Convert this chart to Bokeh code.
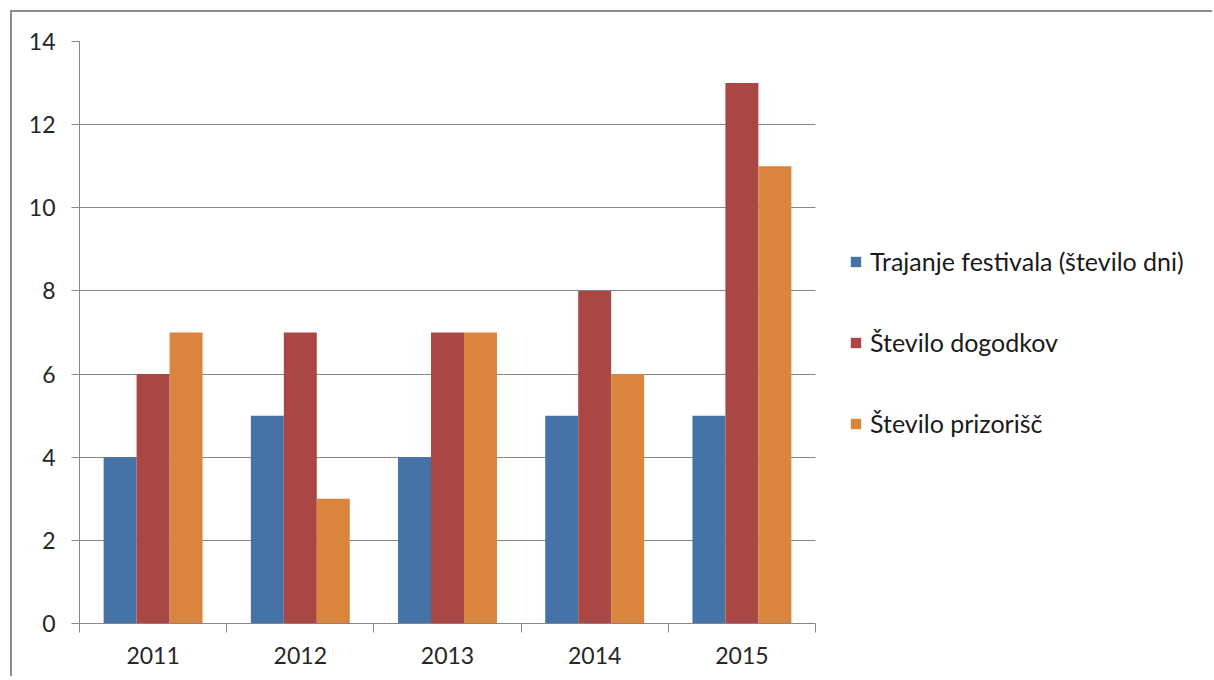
from bokeh.plotting import figure
from bokeh.models import FixedTicker, Legend, LegendItem, Range1d
from bokeh.embed import file_html
from bokeh.resources import INLINE
import numpy as np

years = ["2011", "2012", "2013", "2014", "2015"]
trajanje = [4, 5, 4, 5, 5]
dogodki = [6, 7, 7, 8, 13]
prizorisca = [7, 3, 7, 6, 11]
series_names = ["Trajanje festivala (število dni)", "Število dogodkov", "Število prizorišč"]
colors = ["#4572A7", "#AA4643", "#DB843D"]
y_ticks = [0, 2, 4, 6, 8, 10, 12, 14]

GRAY = "#868686"
TEXT = "#262626"
FONT = "Lato"

W, H = 1202, 666
ML, MT, MB, MR = 67, 29, 55, 20
PLOT_PX = 736  # pixel width of the bar area
n = len(years)
x_end = n * (W - ML - MR) / PLOT_PX

p = figure(width=W, height=H, x_range=Range1d(0, x_end), y_range=Range1d(0, 14),
           output_backend="svg", toolbar_location=None,
           min_border_left=ML, min_border_top=MT, min_border_right=MR, min_border_bottom=MB)
p.styles = {"border-left": "2px solid #8c8c8c", "border-top": "2px solid #8c8c8c",
            "margin-left": "10px", "margin-top": "10px"}
p.outline_line_color = None
p.background_fill_color = "white"
p.border_fill_color = "white"

centers = np.arange(n) + 0.5
bw = 0.224
renderers = []
for k, vals in enumerate([trajanje, dogodki, prizorisca]):
    r = p.vbar(x=centers + (k - 1) * bw, top=vals, bottom=0, width=bw,
               fill_color=colors[k], line_color=None)
    renderers.append(r)

# x axis
p.xaxis.bounds = (0, n)
p.xaxis.ticker = FixedTicker(ticks=list(centers), minor_ticks=list(range(n + 1)))
p.xaxis.major_label_overrides = {float(c): y for c, y in zip(centers, years)}
p.xaxis.major_tick_line_color = None
p.xaxis.major_tick_out = 9
p.xaxis.major_tick_in = 0
p.xaxis.minor_tick_line_color = GRAY
p.xaxis.minor_tick_out = 9
p.xaxis.minor_tick_in = 0
p.xaxis.axis_line_color = GRAY
p.xaxis.major_label_standoff = 14

# y axis
p.yaxis.ticker = FixedTicker(ticks=y_ticks, minor_ticks=[])
p.yaxis.major_tick_line_color = GRAY
p.yaxis.major_tick_out = 8
p.yaxis.major_tick_in = 0
p.yaxis.minor_tick_line_color = None
p.yaxis.axis_line_color = GRAY
p.yaxis.major_label_standoff = 16

for ax in (p.xaxis, p.yaxis):
    ax.major_label_text_font = FONT
    ax.major_label_text_font_size = "23px"
    ax.major_label_text_color = TEXT

p.xgrid.grid_line_color = None
p.ygrid.grid_line_color = GRAY
p.ygrid.grid_line_width = 1
p.ygrid.cross_bounds = (0, n)

legend = Legend(items=[LegendItem(label=s, renderers=[r]) for s, r in zip(series_names, renderers)],
                location=(770, 185), orientation="vertical")
legend.label_text_font = FONT
legend.label_text_font_size = "25px"
legend.label_text_color = "#1a1a1a"
legend.glyph_width = 13
legend.glyph_height = 13
legend.label_standoff = 8
legend.label_height = 28
legend.spacing = 51
legend.margin = 0
legend.padding = 0
legend.border_line_color = None
legend.background_fill_alpha = 0
p.add_layout(legend, "center")

open("out.html", "w").write(file_html(p, INLINE))
